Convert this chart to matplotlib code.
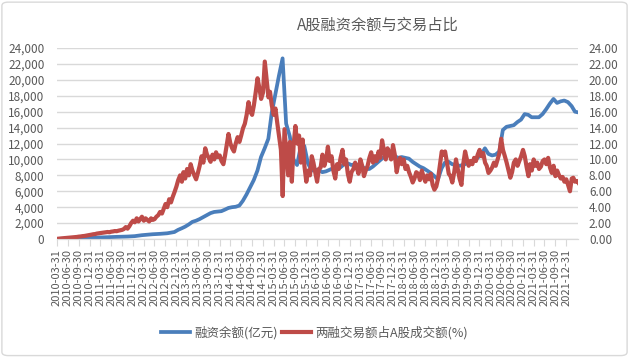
import matplotlib
matplotlib.use('Agg')
import matplotlib.pyplot as plt
import matplotlib.dates as mdates
import matplotlib.ticker as mticker
import pandas as pd
from datetime import datetime
from matplotlib.patches import FancyBboxPatch

plt.rcParams['font.family'] = ['Noto Sans CJK SC', 'DejaVu Sans']

title = 'A股融资余额与交易占比'
label_balance = '融资余额(亿元)'
label_ratio = '两融交易额占A股成交额(%)'

# monthly, 2010-04 .. 2022-04 (亿元)
balance = [
    10, 25, 40, 55, 70, 85, 100, 110, 125,
    140, 160, 180, 200, 220, 240, 260, 270, 280, 290, 310, 330,
    360, 420, 480, 520, 560, 600, 620, 650, 680, 720, 800, 880,
    1150, 1350, 1550, 1830, 2150, 2300, 2500, 2750, 3000, 3250, 3400, 3450,
    3500, 3700, 3900, 4000, 4050, 4200, 4800, 5600, 6500, 7400, 8600, 10300,
    11400, 12600, 15800, 18200, 20500, 22700, 14500, 12900, 10000, 9300, 11600, 11700,
    9500, 8600, 8700, 8700, 8400, 8500, 8700, 8900, 8900, 9000, 9400, 9500,
    9300, 9400, 9300, 9100, 8800, 8800, 9100, 9500, 9900, 10300, 10700, 10600,
    10400, 10200, 10300, 10200, 10100, 9700, 9400, 9100, 8900, 8600, 8300, 7900,
    7500, 8900, 9600, 9700, 9400, 9300, 9200, 9300, 9500, 9700, 9900, 10200,
    10600, 11400, 10700, 10500, 10600, 11000, 13700, 14100, 14200, 14300, 14700, 15000,
    15700, 15600, 15300, 15300, 15300, 15700, 16300, 17000, 17600, 17100, 17300, 17400,
    17200, 16700, 16000, 15900,
]

# semi-monthly (two values per month), 2010-04 .. 2022-04 (%)
ratio = [
    0.02, 0.05, 0.07, 0.09, 0.11, 0.13, 0.15, 0.17, 0.20, 0.22, 0.24, 0.26, 0.30, 0.32, 0.36, 0.38, 0.42, 0.45,
    0.50, 0.55, 0.60, 0.62, 0.68, 0.72, 0.75, 0.78, 0.82, 0.85, 0.88, 0.85, 0.92, 0.95, 1.00, 0.98, 1.05, 1.10, 1.15, 1.25, 1.50, 1.30, 1.60, 2.00,
    2.3, 2.1, 2.6, 2.2, 2.5, 2.8, 2.3, 2.6, 2.4, 2.2, 2.6, 2.4, 2.5, 2.8, 3.0, 3.4, 3.2, 3.8, 4.4, 4.0, 5.0, 4.6, 5.3, 5.9,
    6.6, 7.4, 8.0, 7.2, 8.4, 7.6, 8.8, 8.0, 9.4, 8.6, 8.0, 7.5, 8.3, 9.2, 10.4, 9.6, 11.4, 10.6, 10.2, 9.7, 10.6, 10.0, 10.9, 10.3,
    10.5, 9.8, 9.4, 10.6, 11.8, 13.2, 12.0, 11.4, 11.0, 12.0, 12.8, 12.2, 13.0, 13.9, 14.5, 15.6, 17.2, 16.0, 15.6, 16.8, 18.5, 20.2, 19.0, 17.6,
    18.4, 22.3, 20.0, 17.8, 18.5, 16.8, 15.6, 16.4, 14.6, 13.0, 11.2, 5.4, 13.8, 11.0, 8.0, 12.2, 7.2, 11.8, 14.2, 12.0, 13.0, 9.6, 12.5, 9.2,
    7.2, 8.6, 8.0, 10.4, 9.6, 8.4, 7.2, 8.8, 9.0, 10.6, 9.2, 10.0, 11.6, 9.8, 10.4, 8.6, 7.6, 9.4, 8.8, 10.2, 11.2, 9.4, 10.0, 8.2,
    7.2, 8.4, 8.8, 9.6, 9.0, 8.2, 10.0, 9.2, 7.9, 8.6, 9.2, 10.2, 10.9, 9.6, 10.4, 9.8, 11.0, 10.2, 12.4, 11.2, 10.0, 11.4, 10.8, 10.0,
    11.8, 10.6, 8.4, 9.6, 10.2, 9.4, 10.0, 8.8, 9.2, 8.4, 7.8, 7.1, 7.6, 8.4, 8.2, 7.4, 8.6, 7.8, 7.2, 8.0, 7.5, 8.2, 6.8, 6.2,
    6.6, 7.6, 9.4, 11.0, 10.6, 11.0, 9.6, 8.2, 7.9, 7.1, 8.4, 10.0, 8.8, 7.6, 6.8, 9.4, 11.0, 10.0, 9.2, 9.8, 9.4, 10.2, 9.8, 10.6,
    11.2, 10.4, 10.8, 9.6, 9.2, 8.3, 8.6, 9.0, 9.6, 9.2, 10.0, 10.8, 12.6, 11.2, 10.4, 9.6, 8.6, 7.7, 8.4, 9.6, 10.0, 9.2, 9.8, 10.4,
    11.2, 10.4, 9.0, 7.9, 9.4, 8.6, 10.0, 9.2, 9.6, 8.8, 9.1, 9.8, 10.0, 9.4, 10.2, 9.0, 8.3, 9.2, 7.9, 8.6, 8.0, 7.6, 7.8, 7.2,
    7.5, 6.8, 6.0, 7.6, 7.7, 7.2, 7.3, 7.0,
]

tick_years = list(range(2010, 2022))
quarter_ends = [(3, 31), (6, 30), (9, 30), (12, 31)]

months = pd.date_range('2010-04-01', periods=len(balance), freq='MS')
balance_dates = months + pd.Timedelta(days=14)
ratio_dates = []
for m in months:
    ratio_dates.append(m)
    ratio_dates.append(m + pd.Timedelta(days=15))

tick_dates = [datetime(y, mm, dd) for y in tick_years for (mm, dd) in quarter_ends]

BLUE = '#4a7ebb'
RED = '#be4b48'
GRID = '#d9d9d9'
TXT = '#595959'

fig = plt.figure(figsize=(6.29, 3.57), dpi=100)
ax = fig.add_axes([0.0906, 0.3305, 0.828, 0.535])
ax2 = ax.twinx()

l1, = ax.plot(balance_dates, balance, color=BLUE, lw=2.7, solid_joinstyle='round', label=label_balance)
l2, = ax2.plot(ratio_dates, ratio, color=RED, lw=3.0, solid_joinstyle='round', label=label_ratio)

ax.set_ylim(0, 24000)
ax2.set_ylim(0, 24)
ax.set_yticks(range(0, 24001, 2000))
ax2.set_yticks(range(0, 25, 2))
ax.yaxis.set_major_formatter(mticker.FuncFormatter(lambda v, p: f'{int(v):,}'))
ax2.yaxis.set_major_formatter(mticker.FuncFormatter(lambda v, p: f'{v:.2f}'))

ax.set_xlim(datetime(2010, 3, 31), datetime(2022, 4, 8))
ax.set_xticks(tick_dates)
ax.xaxis.set_major_formatter(mdates.DateFormatter('%Y-%m-%d'))
for lab in ax.get_xticklabels():
    lab.set_rotation(90)

ax.grid(axis='y', color=GRID, lw=1)
ax.set_axisbelow(True)
for a in (ax, ax2):
    for s in ('top', 'left', 'right'):
        a.spines[s].set_visible(False)
    a.spines['bottom'].set_color(GRID)
ax.tick_params(axis='x', direction='out', length=5, width=0.8, color=GRID, labelsize=8, labelcolor=TXT, pad=2)
ax.tick_params(axis='y', length=0, labelsize=8.5, labelcolor=TXT, pad=9)
ax2.tick_params(axis='y', length=0, labelsize=8.5, labelcolor=TXT, pad=8)

fig.text(0.60, 0.93, title, ha='center', va='center', fontsize=11, color=TXT)

fig.legend([l1, l2], [label_balance, label_ratio], loc='center', bbox_to_anchor=(0.5, 0.068),
           ncol=2, frameon=False, fontsize=9, handlelength=2.3, handletextpad=0.3,
           columnspacing=0.4, labelcolor=TXT)

fig.patches.append(FancyBboxPatch((0.003, 0.004), 0.994, 0.99, boxstyle='round,pad=0,rounding_size=0.01',
                                  transform=fig.transFigure, fill=False, edgecolor=GRID, lw=1))

fig.savefig('out.png', dpi=100)
